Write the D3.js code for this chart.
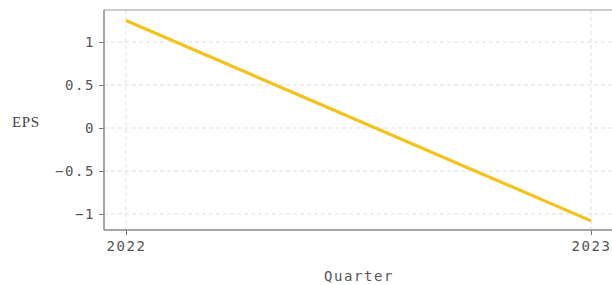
<!DOCTYPE html>
<html lang="en">
<head>
  <meta charset="UTF-8">
  <title>EPS</title>
  <script src="https://d3js.org/d3.v7.min.js"></script>
  <style>
    body { margin: 0; background: #fff; }
  </style>
</head>
<body>
  <script>
    // data
    var quarters = [2022, 2023];
    var eps = [1.25, -1.08];
    var yTicks = [-1, -0.5, 0, 0.5, 1];

    var width = 612, height = 285;
    var frame = { left: 104, right: 614, top: 10, bottom: 230 };
    var mono = '"DejaVu Sans Mono", monospace';

    var svg = d3.select('body').append('svg')
      .attr('width', width)
      .attr('height', height);

    var x = d3.scaleLinear().domain([2022, 2023]).range([126, 591]);
    var y = d3.scaleLinear().domain([-1, 1]).range([214, 42]);

    // grid
    svg.selectAll('.hgrid').data(yTicks).enter().append('line')
      .attr('x1', frame.left).attr('x2', frame.right)
      .attr('y1', d => y(d)).attr('y2', d => y(d))
      .attr('stroke', '#ddd').attr('stroke-dasharray', '4,3');
    svg.selectAll('.vgrid').data(quarters).enter().append('line')
      .attr('x1', d => x(d)).attr('x2', d => x(d))
      .attr('y1', frame.top).attr('y2', frame.bottom)
      .attr('stroke', '#ddd').attr('stroke-dasharray', '4,3');

    // frame top
    svg.append('line')
      .attr('x1', frame.left).attr('x2', frame.right)
      .attr('y1', frame.top).attr('y2', frame.top)
      .attr('stroke', '#bbb').attr('stroke-width', 1.5);

    // axes
    var yAxis = svg.append('g')
      .attr('transform', 'translate(' + frame.left + ',0)')
      .call(d3.axisLeft(y).tickValues(yTicks).tickFormat(d3.format('')).tickSize(5).tickPadding(4).tickSizeOuter(0));
    var xAxis = svg.append('g')
      .attr('transform', 'translate(0,' + frame.bottom + ')')
      .call(d3.axisBottom(x).tickValues(quarters).tickFormat(d3.format('d')).tickSize(5).tickPadding(6).tickSizeOuter(0));

    [yAxis, xAxis].forEach(function (g) {
      g.select('.domain').remove();
      g.selectAll('line').attr('stroke', '#777');
      g.selectAll('text').attr('font-size', 14).attr('letter-spacing', 1.6)
        .attr('font-family', mono).attr('fill', '#555');
    });

    svg.append('line')
      .attr('x1', frame.left).attr('x2', frame.left)
      .attr('y1', frame.top).attr('y2', frame.bottom)
      .attr('stroke', '#888').attr('stroke-width', 1.5);
    svg.append('line')
      .attr('x1', frame.left).attr('x2', frame.right)
      .attr('y1', frame.bottom).attr('y2', frame.bottom)
      .attr('stroke', '#888').attr('stroke-width', 1.5);

    // line
    var line = d3.line().x((d, i) => x(quarters[i])).y(d => y(d));
    svg.append('path')
      .datum(eps)
      .attr('d', line)
      .attr('fill', 'none')
      .attr('stroke', '#f4c21a')
      .attr('stroke-width', 3.2);

    // labels
    svg.append('text')
      .attr('x', 12).attr('y', 127)
      .attr('font-size', 15).attr('letter-spacing', 0.6)
      .attr('font-family', '"Liberation Serif", serif')
      .attr('fill', '#444')
      .text('EPS');
    svg.append('text')
      .attr('x', 359).attr('y', 281)
      .attr('text-anchor', 'middle')
      .attr('font-size', 14).attr('letter-spacing', 1.6)
      .attr('font-family', mono).attr('fill', '#555')
      .text('Quarter');
  </script>
</body>
</html>
